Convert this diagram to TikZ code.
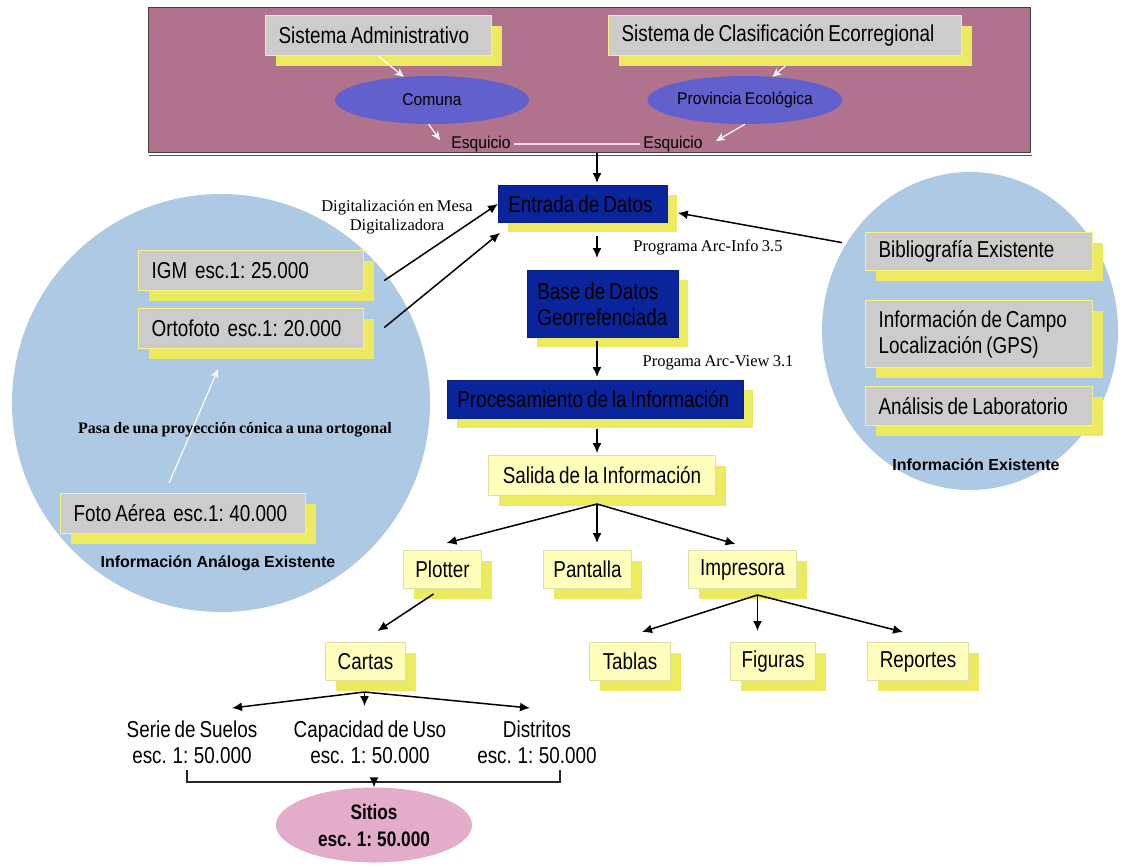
\documentclass[tikz,border=0pt]{standalone}
\usepackage{fontspec}
\setmainfont{Liberation Sans}
\newfontfamily\narrowsans[FakeStretch=0.82,WordSpace=0.75]{Liberation Sans}
\newfontfamily\midsans[FakeStretch=0.92,WordSpace=0.8]{Liberation Sans}
\newfontfamily\notesserif[WordSpace=0.8]{Liberation Serif}
\usetikzlibrary{shapes.geometric,shadows,calc,arrows.meta}

% one unbreakable line of box text, with the font's own word spacing
\newcommand\boxline[1]{\mbox{\spaceskip=0pt\xspaceskip=0pt #1}}

\definecolor{framemauve}{RGB}{176,114,140}
\definecolor{ovalblue}{RGB}{98,96,204}
\definecolor{circblue}{RGB}{173,201,228}
\definecolor{boxgray}{RGB}{204,204,204}
\definecolor{shadowyellow}{RGB}{236,234,96}
\definecolor{edgeyellow}{RGB}{244,242,130}
\definecolor{paleyellow}{RGB}{255,255,187}
\definecolor{paleedge}{RGB}{222,222,170}
\definecolor{dblue}{RGB}{10,36,156}
\definecolor{sitiospink}{RGB}{226,172,202}
\definecolor{linkpink}{RGB}{238,218,228}

\begin{document}
\begin{tikzpicture}[x=1pt,y=-1pt,
  boxfont/.style={font=\narrowsans\fontsize{23}{26}\selectfont},
  ovalfont/.style={font=\midsans\fontsize{17}{20}\selectfont},
  notefont/.style={font=\notesserif\fontsize{16.5}{19}\selectfont},
  titlefont/.style={font=\bfseries\fontsize{16}{19}\selectfont},
  yshadow/.style={drop shadow={shadow xshift=10pt,shadow yshift=-10pt,opacity=1,fill=shadowyellow,draw=none}},
  graybox/.style={yshadow,rectangle,anchor=north west,fill=boxgray,draw=edgeyellow,line width=1.2pt,inner xsep=13pt,inner ysep=0pt,align=left,boxfont},
  bluebox/.style={yshadow,rectangle,anchor=north west,fill=dblue,draw=dblue!85!black,line width=0.8pt,inner xsep=10pt,inner ysep=0pt,align=left,boxfont},
  notebox/.style={yshadow,rectangle,anchor=north west,fill=paleyellow,draw=paleedge,line width=1pt,inner sep=0pt,align=center,boxfont},
  oval/.style={ellipse,inner sep=0pt,fill=ovalblue,draw=none,ovalfont},
  arr/.style={draw=black,line width=1.5pt,-{Latex[length=10pt,width=9pt]}},
  warr/.style={draw=white,line width=1.2pt,-{Stealth[length=9pt,width=8pt]}},
]
% canvas
\fill[white] (0,0) rectangle (1126,865);
\useasboundingbox (0,0) rectangle (1126,865);

% background groups
\node[circle,fill=circblue,minimum size=418pt,inner sep=0pt] (leftcirc) at (221,403) {};
\node[ellipse,fill=circblue,minimum width=296pt,minimum height=318pt,inner sep=0pt] (rightcirc) at (970,331) {};
\node[rectangle,anchor=north west,minimum width=882pt,minimum height=145pt,fill=framemauve,draw=black!75,line width=1.2pt,inner sep=0pt] (frame) at (148,7) {};
\draw[black!65,line width=1.5pt] ($(frame.south west)+(1,2.5)$) -- ($(frame.south east)+(1,2.5)$);

% administrative / ecoregional block
\node[graybox,text width=200pt,minimum height=40pt] (sa) at (265,15) {\boxline{Sistema Administrativo}};
\node[graybox,text width=327pt,minimum height=40pt] (sc) at (608,15) {\boxline{Sistema de Clasificación Ecorregional}};
\node[oval,minimum width=194pt,minimum height=48pt] (comuna) at (432,100) {Comuna};
\node[oval,minimum width=195pt,minimum height=48pt] (prov) at (745,100) {Provincia Ecológica};
\node[ovalfont] (esqL) at (481,144) {Esquicio};
\node[ovalfont] (esqR) at (673,144) {Esquicio};
\draw[warr] (sa.south) -- (comuna);
\draw[warr] ($(sc.south)+(0,10)$) -- (prov);
\draw[warr] (comuna.262) -- ($(esqL.west)+(-8,-4)$);
\draw[warr] (prov.south) -- ($(esqR.east)+(10,-3)$);
\draw[linkpink,line width=2.5pt] (esqL.east) -- (esqR.west);

% analogue sources
\node[graybox,text width=199pt,minimum height=40pt] (igm) at (138,250) {\boxline{IGM~\ esc.1: 25.000}};
\node[graybox,text width=199pt,minimum height=40pt] (orto) at (138,308) {\boxline{Ortofoto~\ esc.1: 20.000}};
\node[graybox,text width=219pt,minimum height=40pt] (foto) at (60,493) {\boxline{Foto Aérea~\ esc.1: 40.000}};
\draw[warr] ($(foto.north)+(-14,-10)$) -- ($(orto.south)+(-33,20)$);
\node[font=\notesserif\bfseries\fontsize{16}{19}\selectfont] (pasa) at (235,430) {Pasa de una proyección cónica a una ortogonal};
\node[titlefont] (analoga) at (218,563) {Información Análoga Existente};

% existing information
\node[graybox,text width=201pt,minimum height=38pt] (bib) at (865,232) {\boxline{Bibliografía Existente}};
\node[graybox,text width=201pt,minimum height=67pt] (campo) at (865,300) {\boxline{Información de Campo}\\\boxline{Localización (GPS)}};
\node[graybox,text width=201pt,minimum height=39pt] (lab) at (865,386) {\boxline{Análisis de Laboratorio}};
\node[titlefont] (existente) at (976,465) {Información Existente};

% processing chain
\node[bluebox,text width=149pt,minimum height=37pt] (entrada) at (498,185) {\boxline{Entrada de Datos}};
\node[bluebox,text width=131pt,minimum height=67pt] (base) at (527,270) {\boxline{Base de Datos}\\\boxline{Georrefenciada}};
\node[bluebox,text width=276pt,minimum height=38pt] (proc) at (447,380) {\boxline{Procesamiento de la Información}};
\node[notebox,minimum width=227pt,minimum height=40pt] (salida) at (488,455) {Salida de la Información};

\node[notefont,align=center] (digit) at (397,217) {Digitalización en Mesa\\Digitalizadora};
\node[notefont] (arcinfo) at (708,247) {Programa Arc-Info 3.5};
\node[notefont] (arcview) at (718,363) {Progama Arc-View 3.1};

\coordinate (spine) at (597,0);
\draw[arr] (frame.south -| spine) -- ($(entrada.north -| spine)+(0,-2)$);
\draw[arr] ($(entrada.south -| spine)+(0,13)$) -- ($(base.north -| spine)+(0,-12)$);
\draw[arr] ($(base.south -| spine)+(0,3)$) -- ($(proc.north -| spine)+(0,-3)$);
\draw[arr] ($(proc.south -| spine)+(0,10)$) -- ($(salida.north -| spine)+(0,-2)$);
\draw[arr] ($(igm.east)+(20,10)$) -- (entrada.west);
\draw[arr] ($(orto.east)+(20,-1)$) -- ($(entrada.south west)+(2,10)$);
\draw[arr] ($(bib.west)+(-23,-9)$) -- ($(entrada.east)+(10,9)$);

% output devices
\node[notebox,minimum width=78pt,minimum height=38pt] (plotter) at (403,550) {Plotter};
\node[notebox,minimum width=88pt,minimum height=38pt] (pantalla) at (543,550) {Pantalla};
\node[notebox,minimum width=108pt,minimum height=38pt] (impresora) at (688,550) {Impresora};
\node[notebox,minimum width=81pt,minimum height=38pt] (tablas) at (589,642) {Tablas};
\node[notebox,minimum width=85pt,minimum height=38pt] (figuras) at (730,642) {Figuras};
\node[notebox,minimum width=101pt,minimum height=38pt] (reportes) at (867,642) {Reportes};
\node[notebox,minimum width=80pt,minimum height=38pt] (cartas) at (325,642) {Cartas};

\coordinate (sfan) at ($(salida.south -| spine)+(0,8)$);
\draw[arr] (sfan) -- ($(plotter.north)+(4,-7)$);
\draw[arr] (sfan) -- ($(sfan |- pantalla.north)+(0,-7)$);
\draw[arr] (sfan) -- ($(impresora.north)+(-7,-6)$);

\coordinate (ifan) at ($(impresora.south)+(15,6)$);
\draw[arr] (ifan) -- ($(tablas.north)+(12,-10)$);
\draw[arr] (ifan) -- ($(ifan |- figuras.north)+(0,-11)$);
\draw[arr] (ifan) -- ($(reportes.north)+(-15,-10)$);

\draw[arr] ($(plotter.south)+(-9,5)$) -- ($(cartas.north)+(12,-11)$);

% map products
\node[boxfont,align=center] (serie) at (192,742) {Serie de Suelos\\esc. 1: 50.000};
\node[boxfont,align=center] (capac) at (370,742) {Capacidad de Uso\\esc. 1: 50.000};
\node[boxfont,align=center] (distr) at (537,742) {Distritos\\esc. 1: 50.000};

\coordinate (cfan) at ($(cartas.south)+(-1,11)$);
\draw[arr] (cfan) -- ($(serie.north)+(40,-9)$);
\draw[arr] (cfan) -- ($(cfan |- capac.north)+(0,-11)$);
\draw[arr] (cfan) -- ($(distr.north)+(-7,-9)$);

\node[ellipse,fill=sitiospink,minimum width=196pt,minimum height=75pt,inner sep=0pt,align=center,font=\narrowsans\bfseries\fontsize{21}{27}\selectfont] (sitios) at (374,825) {Sitios\\esc. 1: 50.000};
\draw[black!85,line width=1.8pt] ($(serie.south)+(-5,3)$) -- ++(0,12) -| ($(distr.south)+(23,3)$);
\draw[arr] ($(sitios.north)+(0,-9)$) -- (sitios.north);
\end{tikzpicture}
\end{document}
